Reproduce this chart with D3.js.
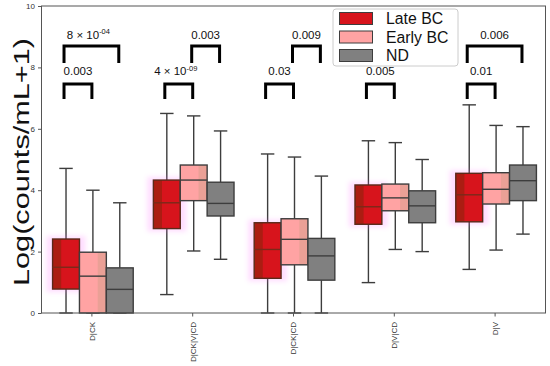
<!DOCTYPE html>
<html><head><meta charset="utf-8">
<script src="https://cdn.jsdelivr.net/npm/d3@7"></script>
<style>body{margin:0;background:#fff}svg{display:block}</style>
</head><body><svg id="c" width="550" height="366"></svg>
<script>
const categories = ["D|CK","D|CK|V|CD","D|CK|CD","D|V|CD","D|V"];
const hues = ["Late BC","Early BC","ND"];
const hueColors = ["#d7141c","#ffa3a3","#808080"];
// [whiskerLow, q1, median, q3, whiskerHigh] per category
const lateBC  = [[0,0.78,1.49,2.41,4.71],[0.6,2.75,3.59,4.33,6.5],[0,1.13,2.07,2.94,5.18],[0.99,2.89,3.46,4.17,5.61],[1.42,2.97,3.85,4.55,6.78]];
const earlyBC = [[0,0,1.2,1.98,4.0],[2.02,3.66,4.33,4.82,6.42],[0,1.57,2.4,3.07,5.08],[2.07,3.33,3.75,4.2,5.55],[2.05,3.55,4.03,4.57,6.11]];
const nd      = [[0,0,0.77,1.47,3.59],[1.75,3.16,3.57,4.26,5.93],[0,1.07,1.86,2.43,4.46],[2.0,2.94,3.49,3.98,5.0],[2.57,3.66,4.31,4.82,6.07]];
const yTicks = [0,2,4,6,8,10];
// significance annotations: category, hue a, hue b, level (0 lower, 1 upper), label, superscript
const sigCat   = [0,0,1,1,2,2,3,4,4];
const sigA     = [0,0,0,1,0,1,0,0,0];
const sigB     = [1,2,1,2,1,2,1,1,2];
const sigLevel = [0,1,0,1,0,1,0,0,1];
const sigText  = ["0.003","8 × 10","4 × 10","0.003","0.03","0.009","0.005","0.01","0.006"];
const sigSup   = ["","-04","-09","","","","","",""];
const bracketLow  = [6.97, 8.14];
const bracketHigh = [7.46, 8.70];
const textBase    = [7.75, 8.93];

const series = [lateBC, earlyBC, nd];
const svg = d3.select("#c");
const L=41.5, R=545.5, T=6, B=313;
const FONT = "Liberation Sans, Arial, sans-serif";
const x = d3.scaleBand().domain(categories).range([L,R]).paddingInner(0).paddingOuter(0);
const xh = d3.scaleBand().domain(hues).range([x.bandwidth()*0.1+1, x.bandwidth()*0.9+1]);
const y = d3.scaleLinear().domain([0,10]).range([B,T]);

const defs = svg.append("defs");
defs.append("filter").attr("id","blur").attr("x","-50%").attr("y","-50%").attr("width","200%").attr("height","200%")
  .append("feGaussianBlur").attr("stdDeviation",2.5);

const lineCol = "#3d3d3d";
const g = svg.append("g");
const bw = xh.bandwidth();
series.forEach((ser, hi) => {
  ser.forEach((d, ci) => {
    const x0 = x(categories[ci]) + xh(hues[hi]);
    const xc = x0 + bw/2;
    const cw = bw*0.5;
    g.append("line").attr("x1",xc).attr("x2",xc).attr("y1",y(d[3])).attr("y2",y(d[4])).attr("stroke",lineCol).attr("stroke-width",1.4);
    g.append("line").attr("x1",xc).attr("x2",xc).attr("y1",y(d[1])).attr("y2",y(d[0])).attr("stroke",lineCol).attr("stroke-width",1.4);
    g.append("line").attr("x1",xc-cw/2).attr("x2",xc+cw/2).attr("y1",y(d[4])).attr("y2",y(d[4])).attr("stroke",lineCol).attr("stroke-width",1.4);
    g.append("line").attr("x1",xc-cw/2).attr("x2",xc+cw/2).attr("y1",y(d[0])).attr("y2",y(d[0])).attr("stroke",lineCol).attr("stroke-width",1.4);
  });
});
lateBC.forEach((d, ci) => {
  const x0 = x(categories[ci]) + xh(hues[0]);
  g.append("rect").attr("x",x0-6).attr("y",y(d[3])-3).attr("width",bw+12).attr("height",y(d[1])-y(d[3])+6)
    .attr("fill","#ff66ff").attr("opacity",0.22).attr("filter","url(#blur)");
});
series.forEach((ser, hi) => {
  ser.forEach((d, ci) => {
    const x0 = x(categories[ci]) + xh(hues[hi]);
    const h = y(d[1]) - y(d[3]);
    g.append("rect").attr("x",x0).attr("y",y(d[3])).attr("width",bw).attr("height",h).attr("fill",hueColors[hi]);
    if (hi===0) g.append("rect").attr("x",x0).attr("y",y(d[3])).attr("width",bw*0.32).attr("height",h).attr("fill","rgba(90,45,0,0.35)");
    if (hi===1) g.append("rect").attr("x",x0+bw*0.68).attr("y",y(d[3])).attr("width",bw*0.32).attr("height",h).attr("fill","rgba(170,150,110,0.25)");
    g.append("rect").attr("x",x0).attr("y",y(d[3])).attr("width",bw).attr("height",h).attr("fill","none")
      .attr("stroke", hi===0 ? "#5a2a1a" : lineCol).attr("stroke-width",1.4);
    g.append("line").attr("x1",x0).attr("x2",x0+bw).attr("y1",y(d[2])).attr("y2",y(d[2]))
      .attr("stroke", hi===0 ? "#7a2a1a" : lineCol).attr("stroke-width",1.4);
  });
});

svg.append("rect").attr("x",L).attr("y",T).attr("width",R-L).attr("height",B-T).attr("fill","none").attr("stroke","#555").attr("stroke-width",1);

const ya = svg.append("g").attr("transform",`translate(${L},0)`).call(d3.axisLeft(y).tickValues(yTicks).tickSize(3.5).tickPadding(3));
ya.select(".domain").remove();
ya.selectAll("text").attr("font-family",FONT).attr("font-size",8).attr("fill","#333");
ya.selectAll("line").attr("stroke","#555");
const xa = svg.append("g").attr("transform",`translate(0,${B})`).call(d3.axisBottom(x).tickSize(3.5).tickPadding(3));
xa.select(".domain").remove();
xa.selectAll("line").attr("stroke","#555");
xa.selectAll("text").attr("font-family",FONT).attr("font-size",8).attr("fill","#333")
  .attr("transform","rotate(-90)").attr("text-anchor","end").attr("dy","0.35em").attr("x",-9).attr("y",0);

svg.append("text").attr("transform","translate(29,162) rotate(-90)").attr("text-anchor","middle")
  .attr("font-family",FONT).attr("font-size",22).attr("fill","#111")
  .attr("textLength",248).attr("lengthAdjust","spacingAndGlyphs").text("Log(counts/mL+1)");

sigCat.forEach((c, i) => {
  const xa1 = x(categories[c]) + xh(hues[sigA[i]]) + bw/2 - 2;
  const xb1 = x(categories[c]) + xh(hues[sigB[i]]) + bw/2 - 1;
  const lv = sigLevel[i];
  svg.append("path").attr("d",`M${xa1},${y(bracketLow[lv])}V${y(bracketHigh[lv])}H${xb1}V${y(bracketLow[lv])}`)
    .attr("fill","none").attr("stroke","#000").attr("stroke-width",3);
  const t = svg.append("text").attr("x",(xa1+xb1)/2 + (sigSup[i]?-3:0)).attr("y",y(textBase[lv])).attr("text-anchor","middle")
    .attr("font-family",FONT).attr("font-size",11.5).attr("fill","#111");
  t.append("tspan").text(sigText[i]);
  if (sigSup[i]) t.append("tspan").attr("dy",-4.5).attr("font-size",7.5).text(sigSup[i]);
});

const lg = svg.append("g");
lg.append("rect").attr("x",333).attr("y",9).attr("width",125).attr("height",57).attr("rx",3)
  .attr("fill","#fff").attr("fill-opacity",0.85).attr("stroke","#ccc").attr("stroke-width",1);
hues.forEach((h, i) => {
  const yy = 12.5 + i*18.5;
  lg.append("rect").attr("x",339.5).attr("y",yy).attr("width",33).attr("height",12).attr("fill",hueColors[i]).attr("stroke","#3d3d3d").attr("stroke-width",1);
  lg.append("text").attr("x",386).attr("y",yy+6).attr("dy","0.36em").attr("font-family",FONT)
    .attr("font-size",15.8).attr("fill","#111").text(h);
});
</script></body></html>
